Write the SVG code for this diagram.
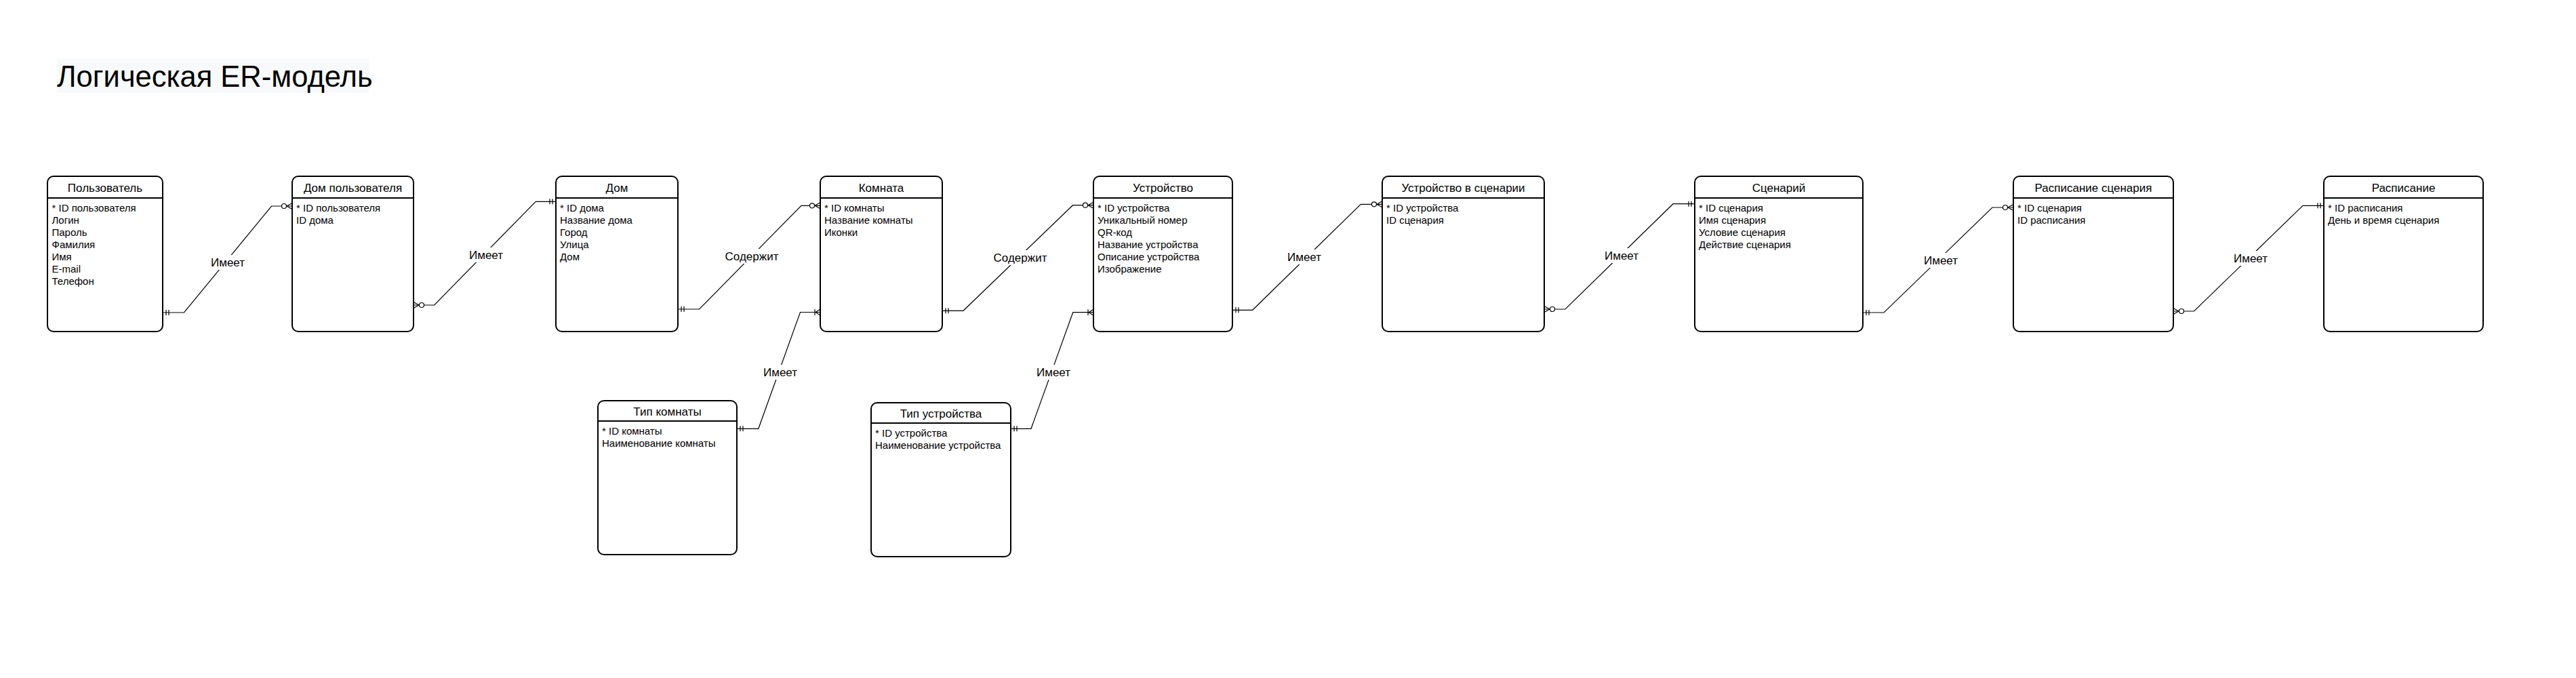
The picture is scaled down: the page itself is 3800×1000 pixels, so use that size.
<svg xmlns="http://www.w3.org/2000/svg" width="3800" height="1000" viewBox="0 0 3800 1000">
<style>
  text { font-family: "Liberation Sans", Arial, sans-serif; fill: #000; }
  .box { fill: #fff; stroke: #000; stroke-width: 2; }
  .div { stroke: #000; stroke-width: 2; }
  .ttl { font-size: 17px; text-anchor: middle; }
  .att { font-size: 15px; }
  .conn { fill: none; stroke: #000; stroke-width: 1.2; }
  .lbl { font-size: 17px; text-anchor: middle; }
  .lblbg { fill: #fff; }
  .mk { fill: none; stroke: #000; stroke-width: 1.2; }
</style>
<defs>
  <marker id="mandOne" markerUnits="userSpaceOnUse" viewBox="-20 -10 22 20" refX="0" refY="0" markerWidth="22" markerHeight="20" orient="auto-start-reverse" overflow="visible">
    <path class="mk" d="M-5,-4 V4 M-9,-4 V4"/>
  </marker>
  <marker id="zeroMany" markerUnits="userSpaceOnUse" viewBox="-20 -10 22 20" refX="0" refY="0" markerWidth="22" markerHeight="20" orient="auto-start-reverse" overflow="visible">
    <path class="mk" d="M0,-4.5 L-8,0 L0,4.5"/>
    <circle cx="-12" cy="0" r="3.5" fill="#fff" stroke="#000" stroke-width="1.2"/>
  </marker>
  <marker id="oneMany" markerUnits="userSpaceOnUse" viewBox="-20 -10 22 20" refX="0" refY="0" markerWidth="22" markerHeight="20" orient="auto-start-reverse" overflow="visible">
    <path class="mk" d="M0,-4.5 L-7,0 L0,4.5 M-8,-4.5 V4.5"/>
  </marker>
</defs>

<g id="title">
  <rect x="84" y="86" width="460" height="51" fill="#f8f9fa"/>
  <text x="84" y="128" style="font-size:43.5px">Логическая ER-модель</text>
</g>

<g id="connectors">
  <path class="conn" d="M240,461 H271.5 L400.5,304 H431" marker-start="url(#mandOne)" marker-end="url(#zeroMany)"/>
  <path class="conn" d="M610,450 H640.6 L790.3,297.3 H820" marker-start="url(#zeroMany)" marker-end="url(#mandOne)"/>
  <path class="conn" d="M1000,456 H1031.6 L1182,303.3 H1210" marker-start="url(#mandOne)" marker-end="url(#zeroMany)"/>
  <path class="conn" d="M1087,632.3 H1118.8 L1180.5,460.5 H1210" marker-start="url(#mandOne)" marker-end="url(#oneMany)"/>
  <path class="conn" d="M1390,458.3 H1421 L1582.5,302.7 H1613" marker-start="url(#mandOne)" marker-end="url(#zeroMany)"/>
  <path class="conn" d="M1491,632.3 H1521 L1582.8,460.7 H1613" marker-start="url(#mandOne)" marker-end="url(#oneMany)"/>
  <path class="conn" d="M1818,457.3 H1847.7 L2007.3,301.3 H2039" marker-start="url(#mandOne)" marker-end="url(#zeroMany)"/>
  <path class="conn" d="M2278,456 H2309 L2468,300.7 H2500" marker-start="url(#zeroMany)" marker-end="url(#mandOne)"/>
  <path class="conn" d="M2748,461 H2779 L2939,306 H2970" marker-start="url(#mandOne)" marker-end="url(#zeroMany)"/>
  <path class="conn" d="M3206,459 H3236.5 L3397,303.3 H3428" marker-start="url(#zeroMany)" marker-end="url(#mandOne)"/>

  <rect class="lblbg" x="309" y="376" width="54" height="22"/>
  <text class="lbl" x="336" y="393">Имеет</text>
  <rect class="lblbg" x="690" y="365" width="54" height="22"/>
  <text class="lbl" x="717" y="382">Имеет</text>
  <rect class="lblbg" x="1070" y="367" width="78" height="22"/>
  <text class="lbl" x="1109" y="384">Содержит</text>
  <rect class="lblbg" x="1124" y="538" width="54" height="22"/>
  <text class="lbl" x="1151" y="555">Имеет</text>
  <rect class="lblbg" x="1466" y="369" width="78" height="22"/>
  <text class="lbl" x="1505" y="386">Содержит</text>
  <rect class="lblbg" x="1527" y="538" width="54" height="22"/>
  <text class="lbl" x="1554" y="555">Имеет</text>
  <rect class="lblbg" x="1897" y="368" width="54" height="22"/>
  <text class="lbl" x="1924" y="385">Имеет</text>
  <rect class="lblbg" x="2365" y="366" width="54" height="22"/>
  <text class="lbl" x="2392" y="383">Имеет</text>
  <rect class="lblbg" x="2836" y="373" width="54" height="22"/>
  <text class="lbl" x="2863" y="390">Имеет</text>
  <rect class="lblbg" x="3293" y="370" width="54" height="22"/>
  <text class="lbl" x="3320" y="387">Имеет</text>
</g>

<g id="user">
  <rect class="box" x="70" y="260" width="170" height="229" rx="9"/>
  <line class="div" x1="70" y1="292" x2="240" y2="292"/>
  <text class="ttl" x="155" y="283">Пользователь</text>
  <text class="att" x="76.5" y="312"><tspan x="76.5">* ID пользователя</tspan><tspan x="76.5" dy="18">Логин</tspan><tspan x="76.5" dy="18">Пароль</tspan><tspan x="76.5" dy="18">Фамилия</tspan><tspan x="76.5" dy="18">Имя</tspan><tspan x="76.5" dy="18">E-mail</tspan><tspan x="76.5" dy="18">Телефон</tspan></text>
</g>

<g id="user_home">
  <rect class="box" x="431" y="260" width="179" height="229" rx="9"/>
  <line class="div" x1="431" y1="292" x2="610" y2="292"/>
  <text class="ttl" x="520.5" y="283">Дом пользователя</text>
  <text class="att" x="437" y="312"><tspan x="437">* ID пользователя</tspan><tspan x="437" dy="18">ID дома</tspan></text>
</g>

<g id="home">
  <rect class="box" x="820" y="260" width="180" height="229" rx="9"/>
  <line class="div" x1="820" y1="292" x2="1000" y2="292"/>
  <text class="ttl" x="910" y="283">Дом</text>
  <text class="att" x="826" y="312"><tspan x="826">* ID дома</tspan><tspan x="826" dy="18">Название дома</tspan><tspan x="826" dy="18">Город</tspan><tspan x="826" dy="18">Улица</tspan><tspan x="826" dy="18">Дом</tspan></text>
</g>

<g id="room">
  <rect class="box" x="1210" y="260" width="180" height="229" rx="9"/>
  <line class="div" x1="1210" y1="292" x2="1390" y2="292"/>
  <text class="ttl" x="1300" y="283">Комната</text>
  <text class="att" x="1216" y="312"><tspan x="1216">* ID комнаты</tspan><tspan x="1216" dy="18">Название комнаты</tspan><tspan x="1216" dy="18">Иконки</tspan></text>
</g>

<g id="device">
  <rect class="box" x="1613" y="260" width="205" height="229" rx="9"/>
  <line class="div" x1="1613" y1="292" x2="1818" y2="292"/>
  <text class="ttl" x="1715.5" y="283">Устройство</text>
  <text class="att" x="1619" y="312"><tspan x="1619">* ID устройства</tspan><tspan x="1619" dy="18">Уникальный номер</tspan><tspan x="1619" dy="18">QR-код</tspan><tspan x="1619" dy="18">Название устройства</tspan><tspan x="1619" dy="18">Описание устройства</tspan><tspan x="1619" dy="18">Изображение</tspan></text>
</g>

<g id="device_in_scenario">
  <rect class="box" x="2039" y="260" width="239" height="229" rx="9"/>
  <line class="div" x1="2039" y1="292" x2="2278" y2="292"/>
  <text class="ttl" x="2158.5" y="283">Устройство в сценарии</text>
  <text class="att" x="2045" y="312"><tspan x="2045">* ID устройства</tspan><tspan x="2045" dy="18">ID сценария</tspan></text>
</g>

<g id="scenario">
  <rect class="box" x="2500" y="260" width="248" height="229" rx="9"/>
  <line class="div" x1="2500" y1="292" x2="2748" y2="292"/>
  <text class="ttl" x="2624" y="283">Сценарий</text>
  <text class="att" x="2506" y="312"><tspan x="2506">* ID сценария</tspan><tspan x="2506" dy="18">Имя сценария</tspan><tspan x="2506" dy="18">Условие сценария</tspan><tspan x="2506" dy="18">Действие сценария</tspan></text>
</g>

<g id="scenario_schedule">
  <rect class="box" x="2970" y="260" width="236" height="229" rx="9"/>
  <line class="div" x1="2970" y1="292" x2="3206" y2="292"/>
  <text class="ttl" x="3088" y="283">Расписание сценария</text>
  <text class="att" x="2976" y="312"><tspan x="2976">* ID сценария</tspan><tspan x="2976" dy="18">ID расписания</tspan></text>
</g>

<g id="schedule">
  <rect class="box" x="3428" y="260" width="235" height="229" rx="9"/>
  <line class="div" x1="3428" y1="292" x2="3663" y2="292"/>
  <text class="ttl" x="3545.5" y="283">Расписание</text>
  <text class="att" x="3434" y="312"><tspan x="3434">* ID расписания</tspan><tspan x="3434" dy="18">День и время сценария</tspan></text>
</g>

<g id="room_type">
  <rect class="box" x="882" y="591" width="205" height="227" rx="9"/>
  <line class="div" x1="882" y1="621" x2="1087" y2="621"/>
  <text class="ttl" x="984.5" y="613">Тип комнаты</text>
  <text class="att" x="888" y="641"><tspan x="888">* ID комнаты</tspan><tspan x="888" dy="18">Наименование комнаты</tspan></text>
</g>

<g id="device_type">
  <rect class="box" x="1285" y="594" width="206" height="227" rx="9"/>
  <line class="div" x1="1285" y1="624" x2="1491" y2="624"/>
  <text class="ttl" x="1388" y="616">Тип устройства</text>
  <text class="att" x="1291" y="644"><tspan x="1291">* ID устройства</tspan><tspan x="1291" dy="18">Наименование устройства</tspan></text>
</g>
</svg>
